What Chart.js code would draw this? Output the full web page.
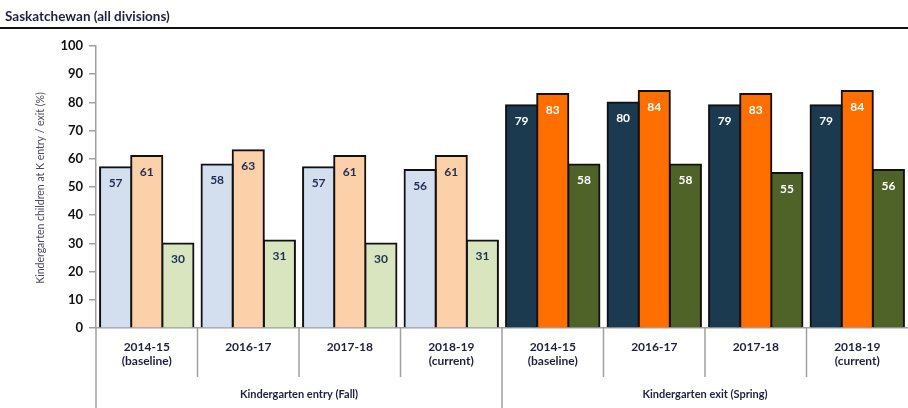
<!DOCTYPE html>
<html>
<head>
<meta charset="utf-8">
<script src="https://cdn.jsdelivr.net/npm/chart.js@4/dist/chart.umd.min.js"></script>
<style>
  html, body { margin: 0; padding: 0; background: #fff; }
  #wrap { position: relative; width: 908px; height: 408px; }
</style>
</head>
<body>
<div id="wrap"><canvas id="c" width="908" height="408"></canvas></div>
<script>
// Category labels (two lines each) and the two period groups
const years = [
  ["2014-15", "(baseline)"], ["2016-17"], ["2017-18"], ["2018-19", "(current)"],
  ["2014-15", "(baseline)"], ["2016-17"], ["2017-18"], ["2018-19", "(current)"]
];
const groups = ["Kindergarten entry (Fall)", "Kindergarten exit (Spring)"];

// Three bars per category
const seriesA = [57, 58, 57, 56, 79, 80, 79, 79];
const seriesB = [61, 63, 61, 61, 83, 84, 83, 84];
const seriesC = [30, 31, 30, 31, 58, 58, 55, 56];

const yTicks = [0, 10, 20, 30, 40, 50, 60, 70, 80, 90, 100];

const title = "Saskatchewan (all divisions)";
const yTitle = "Kindergarten children at K entry / exit (%)";

// Fall bars use the pale palette, spring bars the deep one
const palette = {
  fall:   ["#D3DFEE", "#FCD0A8", "#D8E5BE"],
  spring: ["#1B3A4F", "#FF6F00", "#4F6228"]
};
const colorsFor = (k) => years.map((_, i) => i < 4 ? palette.fall[k] : palette.spring[k]);
const labelColor = (i) => i < 4 ? "#1F2E55" : "#FFFFFF";

const FONT = "Lato, 'Open Sans', sans-serif";

const overlay = {
  id: "overlay",
  afterDraw(chart) {
    const { ctx, chartArea, scales } = chart;
    const x = scales.x;
    ctx.save();

    // heading and rule
    ctx.fillStyle = "#1F2040";
    ctx.font = "bold 13.5px " + FONT;
    ctx.textAlign = "left";
    ctx.textBaseline = "alphabetic";
    ctx.fillText(title, 5, 21);
    ctx.strokeStyle = "#111";
    ctx.lineWidth = 2;
    ctx.beginPath();
    ctx.moveTo(0, 28); ctx.lineTo(908, 28);
    ctx.stroke();

    // value labels inside each bar
    ctx.font = "bold 12px " + FONT;
    ctx.textAlign = "center";
    ctx.textBaseline = "middle";
    chart.data.datasets.forEach((ds, di) => {
      const meta = chart.getDatasetMeta(di);
      meta.data.forEach((bar, i) => {
        ctx.fillStyle = labelColor(i);
        ctx.fillText(String(ds.data[i]), bar.x, bar.y + 16);
      });
    });

    // category separators below the axis
    ctx.strokeStyle = "#A0A0A0";
    ctx.lineWidth = 1.5;
    const n = years.length;
    const half = (x.getPixelForValue(0) - x.getPixelForValue(1)) / 2;
    for (let i = 0; i < n; i++) {
      const px = x.getPixelForValue(i) + half;
      const full = (i === 0 || i === n / 2);
      ctx.beginPath();
      ctx.moveTo(px, chartArea.bottom);
      ctx.lineTo(px, full ? 408 : chartArea.bottom + 49);
      ctx.stroke();
    }

    // group captions
    ctx.fillStyle = "#1F2040";
    ctx.font = "bold 11px " + FONT;
    const mid = (x.getPixelForValue(3) + x.getPixelForValue(4)) / 2;
    ctx.fillText(groups[0], (chartArea.left + mid) / 2, 394);
    ctx.fillText(groups[1], (mid + chartArea.right) / 2, 394);

    // vertical axis title
    ctx.translate(41, (chartArea.top + chartArea.bottom) / 2 + 1);
    ctx.rotate(-Math.PI / 2);
    ctx.fillStyle = "#4A4A5A";
    ctx.font = "10.5px " + FONT;
    ctx.fillText(yTitle, 0, 0);
    ctx.restore();
  }
};

const barStyle = (k) => ({
  backgroundColor: colorsFor(k),
  borderColor: "#111",
  borderWidth: 2,
  borderSkipped: "bottom",
  inflateAmount: 1,
  categoryPercentage: 0.92,
  barPercentage: 1.0
});

new Chart(document.getElementById("c"), {
  type: "bar",
  data: {
    labels: years,
    datasets: [
      { label: "A", data: seriesA, ...barStyle(0) },
      { label: "B", data: seriesB, ...barStyle(1) },
      { label: "C", data: seriesC, ...barStyle(2) }
    ]
  },
  options: {
    responsive: false,
    animation: false,
    events: [],
    layout: { padding: { top: 46, right: 0, left: 0, bottom: 0 } },
    plugins: { legend: { display: false }, tooltip: { enabled: false }, title: { display: false } },
    scales: {
      x: {
        offset: true,
        grid: { display: false, drawTicks: false },
        border: { display: true, color: "#A0A0A0", width: 1.5 },
        ticks: {
          color: "#1F2040",
          font: { family: FONT, size: 12, weight: "bold" },
          padding: 12,
          maxRotation: 0,
          autoSkip: false
        },
        afterFit(s) { s.height = 80; }
      },
      y: {
        min: 0, max: 100,
        afterBuildTicks(s) { s.ticks = yTicks.map(v => ({ value: v })); },
        grid: { drawOnChartArea: false, drawTicks: true, tickLength: 7, color: "#A0A0A0", lineWidth: 1.5 },
        border: { display: true, color: "#A0A0A0", width: 1.5 },
        ticks: {
          color: "#111",
          font: { family: FONT, size: 13, weight: "bold" },
          padding: 6
        },
        afterFit(s) { s.width = 96; }
      }
    }
  },
  plugins: [overlay]
});
</script>
</body>
</html>
